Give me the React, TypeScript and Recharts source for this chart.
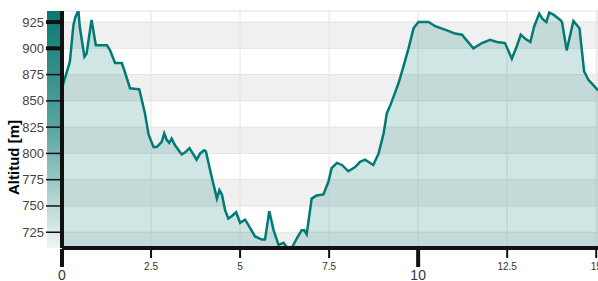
import { Area, AreaChart, CartesianGrid, XAxis, YAxis } from "recharts";

// distance along the route [km] and altitude [m]
const distance = [
  0, 0.13, 0.22, 0.32, 0.38, 0.46, 0.5, 0.63, 0.69, 0.76, 0.83, 0.88, 0.95,
  1.26, 1.35, 1.49, 1.68, 1.77, 1.91, 2.17, 2.33, 2.43, 2.57, 2.66, 2.8, 2.87,
  2.94, 3.01, 3.08, 3.17, 3.36, 3.46, 3.58, 3.69, 3.78, 3.88, 3.99, 4.04, 4.2,
  4.35, 4.42, 4.49, 4.58, 4.67, 4.79, 4.89, 5.0, 5.14, 5.23, 5.42, 5.61, 5.7,
  5.82, 5.94, 6.08, 6.22, 6.31, 6.45, 6.59, 6.73, 6.8, 6.87, 7.01, 7.15, 7.34,
  7.48, 7.57, 7.72, 7.86, 8.04, 8.23, 8.37, 8.51, 8.6, 8.74, 8.89, 9.03, 9.12,
  9.21, 9.31, 9.45, 9.59, 9.73, 9.87, 10.01, 10.29, 10.48, 10.81, 11.04, 11.23,
  11.55, 11.79, 12.02, 12.21, 12.44, 12.63, 12.77, 12.88, 13.01, 13.15, 13.26,
  13.4, 13.49, 13.6, 13.68, 13.8, 13.99, 14.04, 14.17, 14.36, 14.46, 14.53,
  14.66, 14.78, 14.92, 15.05,
];
const altitude = [
  862, 877, 887, 922, 930, 936, 920, 892, 895, 911, 927, 917, 903,
  903, 898, 886, 886, 877, 862, 861, 838, 818, 806, 806, 811, 819,
  813, 810, 814, 808, 799, 801, 805, 799, 794, 800, 803, 802, 778,
  757, 765, 761, 746, 738, 741, 744, 734, 737, 732, 721, 718, 718,
  745, 727, 713, 715, 711, 710, 719, 727, 727, 723, 757, 760, 761,
  773, 786, 791, 789, 783, 787, 792, 794, 792, 789, 800, 819, 838,
  845, 854, 867, 883, 900, 919, 925, 925, 921, 917, 914, 913,
  900, 905, 908, 906, 905, 890, 902, 913, 909, 906, 921,
  933, 928, 925, 934, 932, 927, 925, 898, 926, 922, 919,
  878, 870, 865, 860,
];
const xTicks = [0, 2.5, 5, 7.5, 10, 12.5, 15];
const majorXTicks = [0, 10];
const yTicks = [725, 750, 775, 800, 825, 850, 875, 900, 925];
const boldYTicks = [900, 925];

const data = distance.map((d, i) => ({ d, alt: altitude[i] }));

const FONT = "'Liberation Sans', Arial, sans-serif";
const TEAL = "#007a76";

function XTick(props: any) {
  const { x, y, payload } = props;
  const major = majorXTicks.includes(payload.value);
  return (
    <g>
      <line
        x1={x}
        x2={x}
        y1={y + 1}
        y2={y + (major ? 19 : 10)}
        stroke="#111"
        strokeWidth={major ? 4 : 2}
      />
      <text
        x={x}
        y={major ? y + 31.5 : y + 22}
        textAnchor="middle"
        fontSize={major ? 14 : 10}
        fontFamily={FONT}
        fill="#333"
      >
        {payload.value}
      </text>
    </g>
  );
}

function YTick(props: any) {
  const { x, y, payload } = props;
  const bold = boldYTicks.includes(payload.value);
  return (
    <g>
      <line
        x1={x + 2}
        x2={x + 18}
        y1={y}
        y2={y}
        stroke="#111"
        strokeWidth={bold ? 4 : 1.5}
      />
      <text
        x={x}
        y={y}
        dy={4.5}
        textAnchor="end"
        fontSize={13}
        fontFamily={FONT}
        fill="#444"
      >
        {payload.value}
      </text>
    </g>
  );
}

export default function App() {
  return (
    <div style={{ position: "relative", width: 598, height: 281 }}>
      <style>{"body{margin:0}"}</style>
      {/* colour ramp strip beside the altitude axis */}
      <div
        style={{
          position: "absolute",
          left: 47,
          top: 11,
          width: 15,
          height: 237,
          background: "linear-gradient(#0b7872, #5aa6a1 50%, #eef6f5)",
        }}
      />
      <AreaChart
        width={598}
        height={281}
        data={data}
        margin={{ top: 11, right: 0, left: 0, bottom: 0 }}
        style={{ position: "relative" }}
      >
        <CartesianGrid
          stroke="#e4e4e4"
          horizontalFill={["#ffffff", "#f0f0f0"]}
          fillOpacity={1}
        />
        <XAxis
          dataKey="d"
          type="number"
          domain={[0, 15.05]}
          ticks={xTicks}
          allowDataOverflow
          height={33}
          tickSize={0}
          tickMargin={0}
          tickLine={false}
          axisLine={{ stroke: "#111", strokeWidth: 4 }}
          tick={(p: any) => <XTick {...p} />}
          interval={0}
        />
        <YAxis
          type="number"
          domain={[710, 935.5]}
          ticks={yTicks}
          allowDataOverflow
          width={62}
          tickSize={16}
          tickMargin={2}
          tickLine={false}
          axisLine={{ stroke: "#111", strokeWidth: 4 }}
          tick={(p: any) => <YTick {...p} />}
          interval={0}
          label={{
            content: ({ viewBox }: any) => (
              <text
                transform={`translate(${viewBox.x + 19}, ${
                  viewBox.y + viewBox.height / 2 + 28
                }) rotate(-90)`}
                textAnchor="middle"
                fontSize={15}
                fontWeight={600}
                fontFamily={FONT}
                fill="#000"
              >
                Altitud [m]
              </text>
            ),
          }}
        />
        <Area
          type="linear"
          dataKey="alt"
          stroke={TEAL}
          strokeWidth={2.5}
          fill={TEAL}
          fillOpacity={0.19}
          isAnimationActive={false}
          dot={false}
          activeDot={false}
        />
      </AreaChart>
    </div>
  );
}
